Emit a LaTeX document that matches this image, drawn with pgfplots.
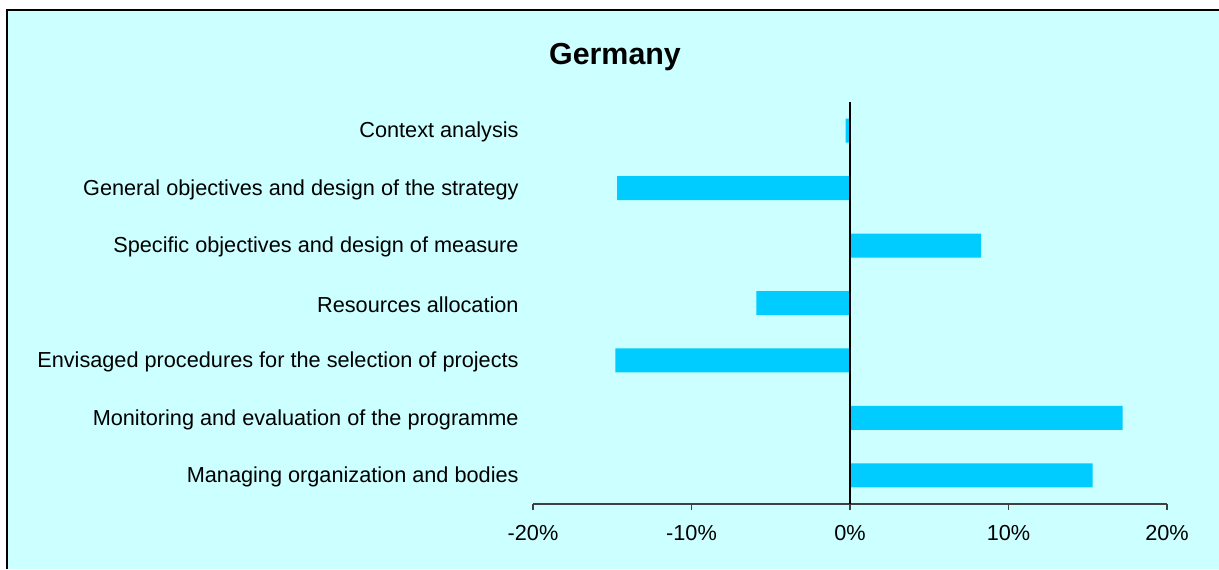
\documentclass[border=0pt]{standalone}
\usepackage{pgfplots}
\pgfplotsset{compat=1.18}
\usepackage{fontspec}
\setmainfont{Liberation Sans}
\definecolor{bg}{HTML}{CCFFFF}
\definecolor{barc}{HTML}{00CCFF}
\definecolor{axc}{HTML}{404040}
\begin{document}
\begin{tikzpicture}
\useasboundingbox (0,0) rectangle (609.5pt,284.5pt);
\fill[white] (0,0) rectangle (609.5pt,284.5pt);
\fill[bg] (3.5pt,0) rectangle (609.5pt,279.5pt);
\draw[black,line width=1.2pt] (3.5pt,0) -- (3.5pt,279.5pt) -- (609.5pt,279.5pt);
\node[font=\fontsize{15.2}{18}\selectfont\bfseries] at (307.5pt,256pt) {Germany};
\begin{axis}[
  at={(266.5pt,32.5pt)}, anchor=south west,
  scale only axis, width=317pt, height=201pt,
  xmin=-20, xmax=20, ymin=0.5, ymax=7.5,
  bar width=12pt,
  axis x line*=bottom, axis y line*=left,
  x axis line style={draw=axc, line width=0.6pt, -},
  y axis line style={draw=none},
  xtick={-20,-10,0,10,20},
  xticklabels={-20\%,-10\%,0\%,10\%,20\%},
  xtick align=outside, major tick length=3pt,
  major x tick style={draw=axc, line width=0.6pt},
  major y tick style={draw=none},
  ytick={1,2,3,4,5,6,7},
  yticklabels={Managing organization and bodies,
               Monitoring and evaluation of the programme,
               Envisaged procedures for the selection of projects,
               Resources allocation,
               Specific objectives and design of measure,
               General objectives and design of the strategy,
               Context analysis},
  tick label style={font=\fontsize{10.85}{12}\selectfont, text=black},
  yticklabel style={anchor=east, inner sep=0pt, xshift=-7pt, yshift=-0.8pt},
  xticklabel style={yshift=-4pt},
  clip=false,
]
\addplot[xbar, fill=barc, draw=none] coordinates {
  (15.3,1) (17.2,2) (-14.8,3) (-5.9,4) (8.27,5) (-14.7,6) (-0.27,7)};
\addplot[sharp plot, black, line width=0.7pt, forget plot] coordinates {(0,0.5) (0,7.5)};
\end{axis}
\end{tikzpicture}
\end{document}
